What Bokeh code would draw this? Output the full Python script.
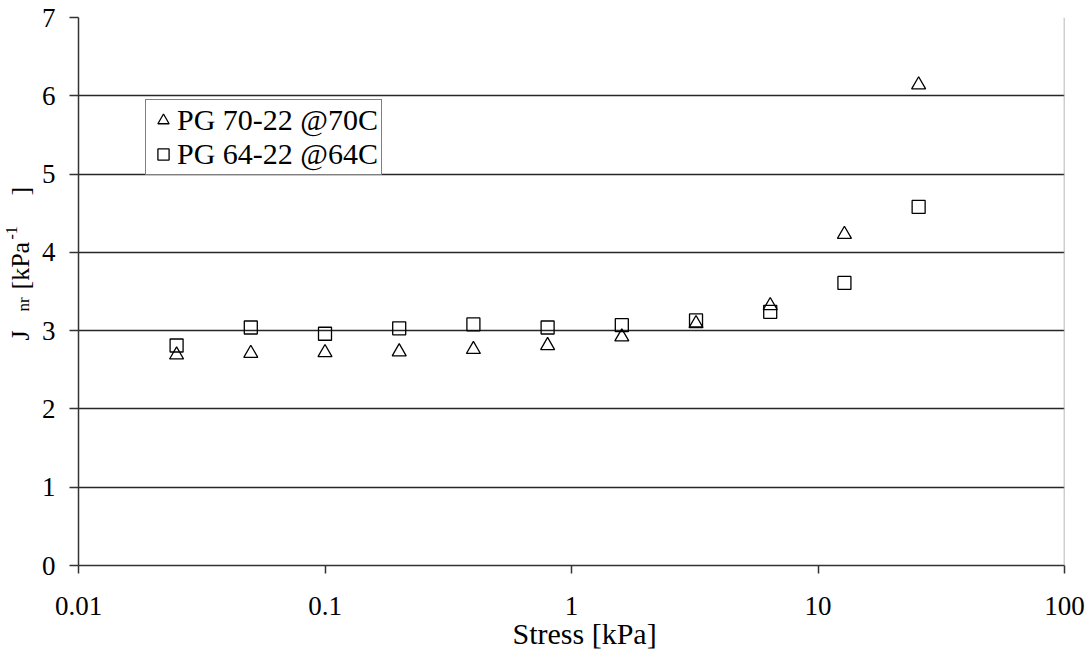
import math
from bokeh.plotting import figure
from bokeh.layouts import row
from bokeh.models import (Range1d, FixedTicker, CustomJSTickFormatter, Span, Title, Label,
                          Legend, LegendItem)
from bokeh.embed import file_html
from bokeh.resources import INLINE

# ---- data ----
stress = [0.025, 0.05, 0.1, 0.2, 0.4, 0.8, 1.6, 3.2, 6.4, 12.8, 25.6]
jnr_pg70 = [2.69, 2.71, 2.72, 2.73, 2.76, 2.81, 2.92, 3.09, 3.32, 4.23, 6.14]
jnr_pg64 = [2.81, 3.04, 2.96, 3.03, 3.08, 3.04, 3.07, 3.13, 3.24, 3.61, 4.58]
series_names = ["PG 70-22 @70C", "PG 64-22 @64C"]
x_ticks = [0.01, 0.1, 1, 10, 100]
y_ticks = [0, 1, 2, 3, 4, 5, 6, 7]
x_title = "Stress [kPa]"
y_title_parts = ["J", "nr", "[kPa", "-1", "]"]   # J_nr [kPa^-1 ]

FONT = "Liberation Serif"
W, H = 1091, 654
STRIP = 38   # width of the strip that carries the vertical axis title

# ---- main plot ----
p = figure(width=W - STRIP, height=H, x_axis_type="log",
           x_range=Range1d(0.01, 100), y_range=Range1d(0, 7),
           output_backend="svg", toolbar_location=None,
           min_border_left=76 - STRIP, min_border_right=27, min_border_top=17,
           min_border_bottom=89)
p.outline_line_color = None
p.background_fill_color = "white"
p.border_fill_color = "white"

p.xgrid.grid_line_color = None
p.ygrid.grid_line_color = "#262626"
p.ygrid.grid_line_width = 1.5
p.ygrid.ticker = FixedTicker(ticks=y_ticks)

p.xaxis.ticker = FixedTicker(ticks=x_ticks, minor_ticks=[])
p.xaxis.formatter = CustomJSTickFormatter(code="return String(parseFloat(tick.toPrecision(6)))")
p.yaxis.ticker = FixedTicker(ticks=y_ticks, minor_ticks=[])
for ax in (p.xaxis[0], p.yaxis[0]):
    ax.axis_line_color = "#333333"
    ax.axis_line_width = 1.5
    ax.major_tick_line_color = "#333333"
    ax.major_tick_line_width = 1.5
    ax.major_tick_in = 0
    ax.minor_tick_line_color = None
    ax.major_label_text_font = FONT
    ax.major_label_text_font_size = "27px"
    ax.major_label_text_color = "black"
p.xaxis.major_tick_out = 8
p.xaxis.major_label_standoff = 23
p.yaxis.major_tick_out = 9
p.yaxis.major_label_standoff = 14

p.add_layout(Span(location=100, dimension="height", line_color="#a0a0a0", line_width=1.5))

r1 = p.scatter(stress, jnr_pg70, marker="triangle", size=14, fill_color=None,
               line_color="black", line_width=1.3)
r2 = p.scatter(stress, jnr_pg64, marker="square", size=13, fill_color=None,
               line_color="black", line_width=1.3)

legend = Legend(items=[LegendItem(label=series_names[0], renderers=[r1]),
                       LegendItem(label=series_names[1], renderers=[r2])],
                location=(67, 390), margin=0, padding=3, spacing=0,
                glyph_width=28, glyph_height=32, label_standoff=0,
                label_text_font=FONT, label_text_font_size="30px",
                label_text_color="black",
                border_line_color="black", border_line_width=1,
                background_fill_color="white", background_fill_alpha=1.0)
p.add_layout(legend)

p.add_layout(Title(text=x_title, align="left", offset=434, standoff=-6,
                   text_font=FONT, text_font_size="30px", text_font_style="normal",
                   text_color="black"), "below")

# ---- strip with the vertical axis title ----
yt = figure(width=STRIP, height=H, x_range=Range1d(0, 1), y_range=Range1d(0, 1),
            output_backend="svg", toolbar_location=None, title=None,
            x_axis_location=None, y_axis_location=None,
            min_border_left=0, min_border_right=0, min_border_top=0, min_border_bottom=0)
yt.outline_line_color = None
yt.xgrid.grid_line_color = None
yt.ygrid.grid_line_color = None
yt.scatter([0.5], [0.5], size=0, alpha=0)   # invisible placeholder renderer
base_x = [20, 23, 20, 11, 20]
up_from_axis = [225, 254, 276, 326, 370]
sizes = ["26px", "17px", "26px", "16px", "26px"]
for txt, xx, yy, fs in zip(y_title_parts, base_x, up_from_axis, sizes):
    yt.add_layout(Label(x=xx, y=yy, x_units="screen", y_units="screen", text=txt,
                        angle=math.pi / 2, text_font=FONT, text_font_size=fs,
                        text_align="left", text_baseline="alphabetic",
                        text_color="black"))

layout = row(yt, p, spacing=0)
open("out.html", "w").write(file_html(layout, INLINE))
